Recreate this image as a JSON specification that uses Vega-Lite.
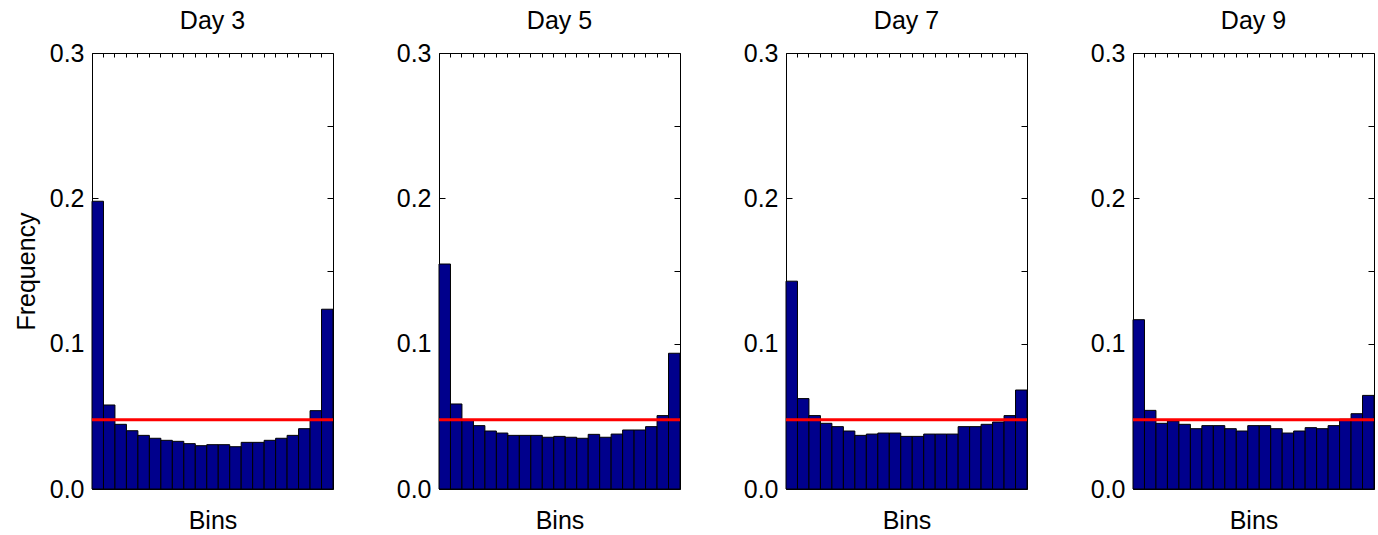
{
  "$schema": "https://vega.github.io/schema/vega-lite/v6.json",
  "background": "#ffffff",
  "padding": {"left": 13, "top": 8, "right": 0, "bottom": 0},
  "datasets": {
    "bars": [
      {"day": "Day 3", "bin": 1, "freq": 0.198}, {"day": "Day 3", "bin": 2, "freq": 0.0578}, {"day": "Day 3", "bin": 3, "freq": 0.0445}, {"day": "Day 3", "bin": 4, "freq": 0.0401}, {"day": "Day 3", "bin": 5, "freq": 0.0369}, {"day": "Day 3", "bin": 6, "freq": 0.0349}, {"day": "Day 3", "bin": 7, "freq": 0.0335}, {"day": "Day 3", "bin": 8, "freq": 0.0328}, {"day": "Day 3", "bin": 9, "freq": 0.0312}, {"day": "Day 3", "bin": 10, "freq": 0.0298}, {"day": "Day 3", "bin": 11, "freq": 0.0305}, {"day": "Day 3", "bin": 12, "freq": 0.0305}, {"day": "Day 3", "bin": 13, "freq": 0.0291}, {"day": "Day 3", "bin": 14, "freq": 0.0321}, {"day": "Day 3", "bin": 15, "freq": 0.0321}, {"day": "Day 3", "bin": 16, "freq": 0.0335}, {"day": "Day 3", "bin": 17, "freq": 0.0349}, {"day": "Day 3", "bin": 18, "freq": 0.0369}, {"day": "Day 3", "bin": 19, "freq": 0.0415}, {"day": "Day 3", "bin": 20, "freq": 0.0539}, {"day": "Day 3", "bin": 21, "freq": 0.1237},
      {"day": "Day 5", "bin": 1, "freq": 0.1548}, {"day": "Day 5", "bin": 2, "freq": 0.0585}, {"day": "Day 5", "bin": 3, "freq": 0.0472}, {"day": "Day 5", "bin": 4, "freq": 0.0436}, {"day": "Day 5", "bin": 5, "freq": 0.0399}, {"day": "Day 5", "bin": 6, "freq": 0.0385}, {"day": "Day 5", "bin": 7, "freq": 0.0369}, {"day": "Day 5", "bin": 8, "freq": 0.0369}, {"day": "Day 5", "bin": 9, "freq": 0.0369}, {"day": "Day 5", "bin": 10, "freq": 0.0356}, {"day": "Day 5", "bin": 11, "freq": 0.0362}, {"day": "Day 5", "bin": 12, "freq": 0.0356}, {"day": "Day 5", "bin": 13, "freq": 0.0349}, {"day": "Day 5", "bin": 14, "freq": 0.0376}, {"day": "Day 5", "bin": 15, "freq": 0.0356}, {"day": "Day 5", "bin": 16, "freq": 0.0378}, {"day": "Day 5", "bin": 17, "freq": 0.0406}, {"day": "Day 5", "bin": 18, "freq": 0.0406}, {"day": "Day 5", "bin": 19, "freq": 0.0429}, {"day": "Day 5", "bin": 20, "freq": 0.0505}, {"day": "Day 5", "bin": 21, "freq": 0.0934},
      {"day": "Day 7", "bin": 1, "freq": 0.143}, {"day": "Day 7", "bin": 2, "freq": 0.0622}, {"day": "Day 7", "bin": 3, "freq": 0.0505}, {"day": "Day 7", "bin": 4, "freq": 0.0452}, {"day": "Day 7", "bin": 5, "freq": 0.0429}, {"day": "Day 7", "bin": 6, "freq": 0.0399}, {"day": "Day 7", "bin": 7, "freq": 0.0369}, {"day": "Day 7", "bin": 8, "freq": 0.0378}, {"day": "Day 7", "bin": 9, "freq": 0.0385}, {"day": "Day 7", "bin": 10, "freq": 0.0385}, {"day": "Day 7", "bin": 11, "freq": 0.0362}, {"day": "Day 7", "bin": 12, "freq": 0.0362}, {"day": "Day 7", "bin": 13, "freq": 0.0378}, {"day": "Day 7", "bin": 14, "freq": 0.0378}, {"day": "Day 7", "bin": 15, "freq": 0.0378}, {"day": "Day 7", "bin": 16, "freq": 0.0429}, {"day": "Day 7", "bin": 17, "freq": 0.0429}, {"day": "Day 7", "bin": 18, "freq": 0.0445}, {"day": "Day 7", "bin": 19, "freq": 0.0461}, {"day": "Day 7", "bin": 20, "freq": 0.0505}, {"day": "Day 7", "bin": 21, "freq": 0.0681},
      {"day": "Day 9", "bin": 1, "freq": 0.1165}, {"day": "Day 9", "bin": 2, "freq": 0.0541}, {"day": "Day 9", "bin": 3, "freq": 0.0452}, {"day": "Day 9", "bin": 4, "freq": 0.0468}, {"day": "Day 9", "bin": 5, "freq": 0.0445}, {"day": "Day 9", "bin": 6, "freq": 0.0415}, {"day": "Day 9", "bin": 7, "freq": 0.0436}, {"day": "Day 9", "bin": 8, "freq": 0.0436}, {"day": "Day 9", "bin": 9, "freq": 0.0415}, {"day": "Day 9", "bin": 10, "freq": 0.0399}, {"day": "Day 9", "bin": 11, "freq": 0.0436}, {"day": "Day 9", "bin": 12, "freq": 0.0436}, {"day": "Day 9", "bin": 13, "freq": 0.0415}, {"day": "Day 9", "bin": 14, "freq": 0.0385}, {"day": "Day 9", "bin": 15, "freq": 0.0399}, {"day": "Day 9", "bin": 16, "freq": 0.0422}, {"day": "Day 9", "bin": 17, "freq": 0.0415}, {"day": "Day 9", "bin": 18, "freq": 0.0436}, {"day": "Day 9", "bin": 19, "freq": 0.048}, {"day": "Day 9", "bin": 20, "freq": 0.0518}, {"day": "Day 9", "bin": 21, "freq": 0.0644}
    ],
    "ref": [{"expected": 0.047619}]
  },
  "hconcat": [
    {
      "width": 241, "height": 436,
      "title": {"text": "Day 3"},
      "layer": [
        {"data": {"name": "bars"}, "transform": [{"filter": "datum.day === 'Day 3'"}],
         "mark": {"type": "bar", "fill": "#00008C", "stroke": "#000000", "strokeWidth": 1},
         "encoding": {
           "x": {"field": "bin", "type": "ordinal", "scale": {"paddingInner": 0, "paddingOuter": 0}, "axis": {"orient": "bottom", "title": "Bins", "labels": false, "ticks": false, "domain": false, "titlePadding": 19}},
           "y": {"field": "freq", "type": "quantitative", "scale": {"domain": [0, 0.3], "nice": false}, "axis": {"orient": "left", "values": [0, 0.1, 0.2, 0.3], "format": ".1f", "tickSize": -6, "labelPadding": 14, "domain": false, "grid": false, "title": "Frequency", "titlePadding": 10}}
         }},
        {"data": {"name": "ref"}, "mark": {"type": "rule", "color": "#FF0000", "strokeWidth": 3},
         "encoding": {"y": {"field": "expected", "type": "quantitative", "axis": null}}},
        {"data": {"name": "bars"}, "transform": [{"filter": "datum.day === 'Day 3'"}],
         "mark": {"type": "bar", "opacity": 0},
         "encoding": {
           "x": {"field": "bin", "type": "ordinal", "axis": {"orient": "top", "labels": false, "title": null, "domain": false, "grid": false, "tickSize": -4, "bandPosition": 0}},
           "y": {"field": "freq", "type": "quantitative", "axis": {"orient": "right", "values": [0, 0.05, 0.1, 0.15, 0.2, 0.25, 0.3], "labels": false, "title": null, "domain": false, "grid": false, "tickSize": -6}}
         }}
      ],
      "resolve": {"axis": {"x": "independent", "y": "independent"}}
    },
    {
      "width": 241, "height": 436,
      "title": {"text": "Day 5"},
      "layer": [
        {"data": {"name": "bars"}, "transform": [{"filter": "datum.day === 'Day 5'"}],
         "mark": {"type": "bar", "fill": "#00008C", "stroke": "#000000", "strokeWidth": 1},
         "encoding": {
           "x": {"field": "bin", "type": "ordinal", "scale": {"paddingInner": 0, "paddingOuter": 0}, "axis": {"orient": "bottom", "title": "Bins", "labels": false, "ticks": false, "domain": false, "titlePadding": 19}},
           "y": {"field": "freq", "type": "quantitative", "scale": {"domain": [0, 0.3], "nice": false}, "axis": {"orient": "left", "values": [0, 0.1, 0.2, 0.3], "format": ".1f", "tickSize": -6, "labelPadding": 14, "domain": false, "grid": false, "title": null}}
         }},
        {"data": {"name": "ref"}, "mark": {"type": "rule", "color": "#FF0000", "strokeWidth": 3},
         "encoding": {"y": {"field": "expected", "type": "quantitative", "axis": null}}},
        {"data": {"name": "bars"}, "transform": [{"filter": "datum.day === 'Day 5'"}],
         "mark": {"type": "bar", "opacity": 0},
         "encoding": {
           "x": {"field": "bin", "type": "ordinal", "axis": {"orient": "top", "labels": false, "title": null, "domain": false, "grid": false, "tickSize": -4, "bandPosition": 0}},
           "y": {"field": "freq", "type": "quantitative", "axis": {"orient": "right", "values": [0, 0.05, 0.1, 0.15, 0.2, 0.25, 0.3], "labels": false, "title": null, "domain": false, "grid": false, "tickSize": -6}}
         }}
      ],
      "resolve": {"axis": {"x": "independent", "y": "independent"}}
    },
    {
      "width": 241, "height": 436,
      "title": {"text": "Day 7"},
      "layer": [
        {"data": {"name": "bars"}, "transform": [{"filter": "datum.day === 'Day 7'"}],
         "mark": {"type": "bar", "fill": "#00008C", "stroke": "#000000", "strokeWidth": 1},
         "encoding": {
           "x": {"field": "bin", "type": "ordinal", "scale": {"paddingInner": 0, "paddingOuter": 0}, "axis": {"orient": "bottom", "title": "Bins", "labels": false, "ticks": false, "domain": false, "titlePadding": 19}},
           "y": {"field": "freq", "type": "quantitative", "scale": {"domain": [0, 0.3], "nice": false}, "axis": {"orient": "left", "values": [0, 0.1, 0.2, 0.3], "format": ".1f", "tickSize": -6, "labelPadding": 14, "domain": false, "grid": false, "title": null}}
         }},
        {"data": {"name": "ref"}, "mark": {"type": "rule", "color": "#FF0000", "strokeWidth": 3},
         "encoding": {"y": {"field": "expected", "type": "quantitative", "axis": null}}},
        {"data": {"name": "bars"}, "transform": [{"filter": "datum.day === 'Day 7'"}],
         "mark": {"type": "bar", "opacity": 0},
         "encoding": {
           "x": {"field": "bin", "type": "ordinal", "axis": {"orient": "top", "labels": false, "title": null, "domain": false, "grid": false, "tickSize": -4, "bandPosition": 0}},
           "y": {"field": "freq", "type": "quantitative", "axis": {"orient": "right", "values": [0, 0.05, 0.1, 0.15, 0.2, 0.25, 0.3], "labels": false, "title": null, "domain": false, "grid": false, "tickSize": -6}}
         }}
      ],
      "resolve": {"axis": {"x": "independent", "y": "independent"}}
    },
    {
      "width": 241, "height": 436,
      "title": {"text": "Day 9"},
      "layer": [
        {"data": {"name": "bars"}, "transform": [{"filter": "datum.day === 'Day 9'"}],
         "mark": {"type": "bar", "fill": "#00008C", "stroke": "#000000", "strokeWidth": 1},
         "encoding": {
           "x": {"field": "bin", "type": "ordinal", "scale": {"paddingInner": 0, "paddingOuter": 0}, "axis": {"orient": "bottom", "title": "Bins", "labels": false, "ticks": false, "domain": false, "titlePadding": 19}},
           "y": {"field": "freq", "type": "quantitative", "scale": {"domain": [0, 0.3], "nice": false}, "axis": {"orient": "left", "values": [0, 0.1, 0.2, 0.3], "format": ".1f", "tickSize": -6, "labelPadding": 14, "domain": false, "grid": false, "title": null}}
         }},
        {"data": {"name": "ref"}, "mark": {"type": "rule", "color": "#FF0000", "strokeWidth": 3},
         "encoding": {"y": {"field": "expected", "type": "quantitative", "axis": null}}},
        {"data": {"name": "bars"}, "transform": [{"filter": "datum.day === 'Day 9'"}],
         "mark": {"type": "bar", "opacity": 0},
         "encoding": {
           "x": {"field": "bin", "type": "ordinal", "axis": {"orient": "top", "labels": false, "title": null, "domain": false, "grid": false, "tickSize": -4, "bandPosition": 0}},
           "y": {"field": "freq", "type": "quantitative", "axis": {"orient": "right", "values": [0, 0.05, 0.1, 0.15, 0.2, 0.25, 0.3], "labels": false, "title": null, "domain": false, "grid": false, "tickSize": -6}}
         }}
      ],
      "resolve": {"axis": {"x": "independent", "y": "independent"}}
    }
  ],
  "spacing": 106,
  "bounds": "flush",
  "config": {
    "font": "Liberation Sans",
    "view": {"stroke": "#000000", "strokeWidth": 1},
    "axis": {"labelFont": "Liberation Sans", "titleFont": "Liberation Sans", "labelFontSize": 25, "titleFontSize": 25, "titleFontWeight": "normal", "labelColor": "#000000", "titleColor": "#000000", "tickColor": "#000000", "tickWidth": 1},
    "title": {"font": "Liberation Sans", "fontSize": 25, "fontWeight": "normal", "color": "#000000", "offset": 7}
  }
}
